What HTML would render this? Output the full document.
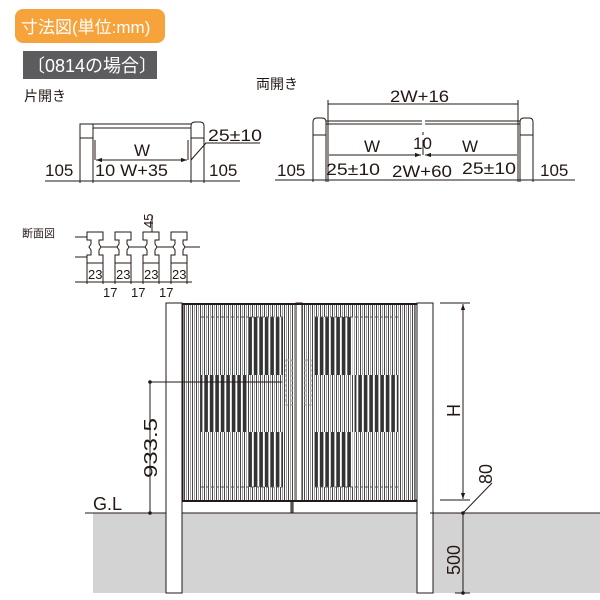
<!DOCTYPE html>
<html><head><meta charset="utf-8"><style>
body{margin:0;background:#fff}
svg{display:block}
text{font-family:"Liberation Sans","Noto Sans CJK JP",sans-serif;fill:#231815}
</style></head><body>
<svg width="600" height="600" viewBox="0 0 600 600" xmlns="http://www.w3.org/2000/svg">
<defs>
<marker id="a" viewBox="0 0 10 10" refX="10" refY="5" markerWidth="6" markerHeight="6" orient="auto-start-reverse"><path d="M0,1.5L10,5L0,8.5z" fill="#231815"/></marker>
<pattern id="sl" width="4" height="10" patternUnits="userSpaceOnUse"><rect width="4" height="10" fill="#fff"/><rect x="0" width="1" height="10" fill="#444"/><rect x="2.2" width="0.8" height="10" fill="#888"/></pattern>
<pattern id="dk" width="5.5" height="10" patternUnits="userSpaceOnUse"><rect width="5.5" height="10" fill="#fff"/><rect x="0.8" width="3.6" height="10" fill="#333"/></pattern>
</defs>
<rect x="15" y="9" width="150" height="34" rx="8" fill="#f5a33a"/>
<text x="21" y="33" font-size="17" style="fill:#fff">寸法図(単位:mm)</text>
<rect x="23" y="51" width="134" height="28" fill="#5c5c5e"/>
<text x="27" y="72" font-size="18" style="fill:#fff">〔0814の場合〕</text>
<text x="24" y="101" font-size="14">片開き</text>
<text x="256" y="89" font-size="14">両開き</text>

<g stroke="#231815" stroke-width="1" fill="none">
<rect x="80" y="124" width="13" height="14" fill="#fff"/>
<path d="M191,138V126q0,-4 4,-4h5q4,0 4,4v12z" fill="#fff"/>
<path d="M93,124H191M93,128H191"/>
<path d="M80,138V183M93,138V183M191,138V183M204,138V183"/>
<path d="M95,140V160M188,140V160"/>
<path d="M45,181H240"/>
<line x1="96" y1="160" x2="187" y2="160" marker-start="url(#a)" marker-end="url(#a)"/>
<path d="M191,160L206,143H260"/>
<path d="M313,135V122q0,-4 4,-4h5q4,0 4,4v13z" fill="#fff"/>
<path d="M520,135V122q0,-4 4,-4h5q4,0 4,4v13z" fill="#fff"/>
<path d="M326,121H422M326,124H422M425,121H520M425,124H520"/>
<path d="M328,100V135M518,100V135"/>
<line x1="328" y1="104" x2="518" y2="104"/>
<path d="M313,135V182M326,135V182M328,135V182M518,135V182M520,135V182M533,135V182"/>
<path d="M275,180H575"/>
<path d="M423,132V135M423,140V155"/>
<line x1="329" y1="155" x2="421" y2="155" marker-end="url(#a)"/>
<line x1="425" y1="155" x2="517" y2="155" marker-start="url(#a)"/>
</g>
<g font-size="17" lengthAdjust="spacingAndGlyphs">
<text x="134" y="156">W</text>
<text x="45" y="176">105</text>
<text x="95" y="176" textLength="73" lengthAdjust="spacingAndGlyphs">10 W+35</text>
<text x="209" y="176">105</text>
<text x="208" y="141" textLength="54" lengthAdjust="spacingAndGlyphs">25±10</text>
<text x="390" y="102" textLength="59" lengthAdjust="spacingAndGlyphs">2W+16</text>
<text x="364" y="152">W</text>
<text x="413" y="149">10</text>
<text x="462" y="152">W</text>
<text x="277" y="176">105</text>
<text x="326" y="175" textLength="54" lengthAdjust="spacingAndGlyphs">25±10</text>
<text x="392" y="177" textLength="60" lengthAdjust="spacingAndGlyphs">2W+60</text>
<text x="462" y="174" textLength="54" lengthAdjust="spacingAndGlyphs">25±10</text>
<text x="540" y="176">105</text>
</g>

<text x="22" y="237" font-size="11">断面図</text>
<g stroke="#231815" stroke-width="1" fill="#fff">
<path d="M75,237H88M75,257H88"/>
<path d="M100,247H200M152,215V263"/>
<g id="p"><path d="M87,232H103V240H99V244L101,247L99,250V255H103V263H87V255H91V250L89,247L91,244V240H87Z"/></g>
<use href="#p" x="28"/><use href="#p" x="56"/><use href="#p" x="84"/>
<path d="M75,282H192M87,263V284M103,263V284M115,263V284M131,263V284M143,263V284M159,263V284M171,263V284M187,263V284"/>
</g>
<g font-size="13"><text x="88" y="279">23</text><text x="116" y="279">23</text><text x="144" y="279">23</text><text x="172" y="279">23</text>
<text x="103" y="297">17</text><text x="131" y="297">17</text><text x="159" y="297">17</text></g>
<text font-size="13" transform="translate(153,228) rotate(-90)">45</text>

<rect x="93" y="513" width="507" height="80" fill="#d3d3d4"/>
<g stroke="#231815" stroke-width="1">
<line x1="85" y1="513" x2="600" y2="513"/>
<rect x="166" y="303" width="16" height="290" fill="#fff"/>
<rect x="417" y="303" width="16" height="290" fill="#fff"/>
<rect x="182" y="500" width="235" height="13" fill="#fff"/>
<rect x="291" y="500" width="2" height="13" fill="#888"/>
<rect x="183" y="304" width="113" height="197" fill="url(#sl)"/>
<rect x="302" y="304" width="113" height="197" fill="url(#sl)"/>
<rect x="296" y="303" width="6" height="198" fill="#fff"/>
<path d="M182,304H417M182,501H417" stroke-width="2" fill="none"/>
</g>
<g fill="url(#dk)">
<rect x="246" y="317" width="37" height="58"/><rect x="201" y="375" width="45" height="57"/><rect x="246" y="432" width="37" height="55"/>
<rect x="315" y="317" width="38" height="58"/><rect x="355" y="375" width="43" height="57"/><rect x="315" y="432" width="38" height="55"/>
</g>
<path d="M201,317H283M201,487H283M315,317H398M315,487H398" stroke="#555" stroke-dasharray="3,2"/>
<rect x="286" y="360" width="6" height="45" fill="none" stroke="#999" stroke-dasharray="3,2"/>
<rect x="305" y="360" width="6" height="45" fill="none" stroke="#999" stroke-dasharray="3,2"/>
<g stroke="#231815" stroke-width="1" fill="none">
<path d="M150,382H282M150,382V513"/>
<path d="M440,303H470M440,500H470M430,513H470"/>
<line x1="463" y1="304" x2="463" y2="499" marker-start="url(#a)" marker-end="url(#a)"/>
<path d="M463,513V593M455,593H470M463,513L492,483"/>
</g>
<circle cx="150" cy="382" r="1.8" fill="#231815"/><circle cx="150" cy="513" r="1.8" fill="#231815"/>
<circle cx="463" cy="513" r="1.8" fill="#231815"/><circle cx="463" cy="593" r="1.8" fill="#231815"/>
<text x="93" y="510" font-size="18">G.L</text>
<text font-size="18" transform="translate(157,478) rotate(-90)" textLength="60" lengthAdjust="spacingAndGlyphs">933.5</text>
<text font-size="18" transform="translate(460,417) rotate(-90)">H</text>
<text font-size="18" transform="translate(492,484) rotate(-90)">80</text>
<text font-size="18" transform="translate(460,575) rotate(-90)">500</text>
</svg>
</body></html>
